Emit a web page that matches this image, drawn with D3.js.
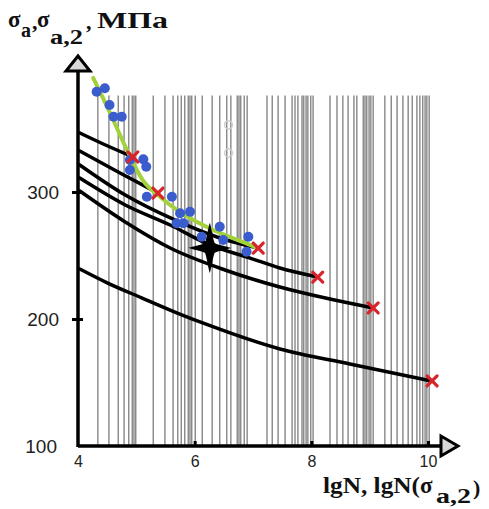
<!DOCTYPE html>
<html>
<head>
<meta charset="utf-8">
<script src="https://cdn.jsdelivr.net/npm/d3@7"></script>
<style>
  body { margin: 0; background: #fff; }
  svg { display: block; }
</style>
</head>
<body>
<div id="chart"></div>
<script>
// --- data (x = lgN, y = sigma, MPa) ---

// vertical grey lines of the background grid
const gridLgN = [4.34, 4.53, 4.69, 4.79, 4.87, 4.93, 4.96, 4.99,
  5.29, 5.49, 5.63, 5.71, 5.77, 5.83, 5.89, 5.92, 5.95, 6.01,
  6.13, 6.30, 6.43, 6.55, 6.62, 6.73, 6.76, 6.79, 6.85, 6.90,
  7.24, 7.33, 7.43, 7.55, 7.67, 7.72, 7.77, 7.84, 7.87, 7.91, 7.94, 7.99, 8.03,
  8.32, 8.44, 8.54, 8.63, 8.73, 8.78, 8.89, 8.92, 8.95, 8.99, 9.02, 9.06,
  9.26, 9.37, 9.47, 9.57, 9.66, 9.73, 9.81, 9.86, 9.91, 9.95, 9.98, 10.02];
const gridTop = 376;

// black fatigue curves, each ends on a red cross
const curve1 = [[4.03, 346.5], [4.51, 336.2], [4.94, 327.6]];
const curve2 = [[4.03, 332.3], [4.72, 315.0], [5.37, 299.2]];
const curve3 = [[4.03, 321.3], [4.81, 297.6], [5.66, 278.0], [6.43, 263.8], [7.09, 255.9]];
const curve4 = [[4.03, 311.0], [4.81, 289.8], [5.58, 274.0], [6.26, 258.3], [6.95, 248.0], [7.46, 240.2], [8.11, 233.1]];
const curve5 = [[4.03, 300.8], [4.81, 276.4], [5.58, 255.9], [6.52, 238.6], [7.46, 225.2], [8.32, 215.7], [9.06, 208.7]];
const curve6 = [[4.03, 239.4], [4.51, 228.3], [5.10, 216.5], [5.66, 205.5], [6.23, 195.3], [7.46, 176.4], [8.66, 164.6], [10.06, 151.2]];
const blackCurves = [curve1, curve2, curve3, curve4, curve5, curve6];

// green fitted curve through the test points
const greenCurve = [[4.26, 389.8], [4.55, 362.2], [4.84, 333.1], [5.11, 309.4], [5.41, 296.1],
  [5.70, 285.8], [6.21, 272.4], [6.95, 258.3], [7.07, 255.9]];

// blue test points
const testPoints = [[4.32, 379.0], [4.46, 381.7], [4.54, 368.5], [4.61, 359.3], [4.75, 359.3],
  [4.89, 325.2], [5.12, 325.7], [5.17, 319.9], [4.89, 317.3], [5.18, 296.3], [5.61, 296.3],
  [5.75, 283.2], [5.92, 284.5], [5.69, 275.4], [5.81, 275.4], [6.12, 264.8], [6.43, 272.7],
  [6.49, 262.2], [6.92, 264.8], [6.89, 253.0]];

// red crosses at curve ends
const crossLgN = [4.94, 5.37, 7.09, 8.11, 9.06, 10.07];
const crossSigma = [327.6, 299.2, 255.9, 233.0, 208.7, 151.2];

// black star and faint ghost circles
const starPoint = [6.26, 256.0];
const ghostPoints = [[6.58, 352.8], [6.58, 330.7]];

const xTicks = [4, 6, 8, 10];
const yTicks = [100, 200, 300];

// --- drawing ---
const width = 489, height = 509;
const svg = d3.select("#chart")
  .append("svg")
  .attr("width", width)
  .attr("height", height);

const x = d3.scaleLinear().domain([4, 10]).range([78, 428]);
const y = d3.scaleLinear().domain([100, 400]).range([446, 65]);

// grid lines
svg.append("g")
  .selectAll("line")
  .data(gridLgN)
  .enter()
  .append("line")
  .attr("x1", d => x(d)).attr("x2", d => x(d))
  .attr("y1", y(gridTop)).attr("y2", y(100))
  .attr("stroke", "#878787")
  .attr("stroke-width", 1.4);

// ghost circles
svg.append("g")
  .selectAll("circle")
  .data(ghostPoints)
  .enter()
  .append("circle")
  .attr("cx", d => x(d[0])).attr("cy", d => y(d[1]))
  .attr("r", 4)
  .attr("fill", "none")
  .attr("stroke", "#cfcfcf")
  .attr("stroke-width", 1.5);

const line = d3.line()
  .x(d => x(d[0]))
  .y(d => y(d[1]))
  .curve(d3.curveMonotoneX);

// black curves
svg.append("g")
  .selectAll("path")
  .data(blackCurves)
  .enter()
  .append("path")
  .attr("d", line)
  .attr("fill", "none")
  .attr("stroke", "#000")
  .attr("stroke-width", 3.5)
  .attr("stroke-linecap", "round");

// green curve
svg.append("path")
  .datum(greenCurve)
  .attr("d", line)
  .attr("fill", "none")
  .attr("stroke", "#a3d13c")
  .attr("stroke-width", 4)
  .attr("stroke-linecap", "round");

// blue points
svg.append("g")
  .selectAll("circle")
  .data(testPoints)
  .enter()
  .append("circle")
  .attr("cx", d => x(d[0])).attr("cy", d => y(d[1]))
  .attr("r", 5)
  .attr("fill", "#3a5ccc");

// red crosses
const crosses = svg.append("g")
  .selectAll("g")
  .data(crossLgN)
  .enter()
  .append("g")
  .attr("transform", (d, i) => `translate(${x(d)},${y(crossSigma[i])})`);
crosses.append("path")
  .attr("d", "M-5,-5L5,5M-5,5L5,-5")
  .attr("stroke", "#d8242a")
  .attr("stroke-width", 3.2)
  .attr("stroke-linecap", "round");

// star
const starPts = [];
for (let k = 0; k < 8; k++) {
  const a = k * Math.PI / 4 - Math.PI / 2;
  const outer = k % 2 === 0;
  const rx = outer ? 21 : 7, ry = outer ? 25 : 7;
  starPts.push([Math.cos(a) * rx, Math.sin(a) * ry]);
}
svg.append("path")
  .attr("transform", `translate(${x(starPoint[0])},${y(starPoint[1])})`)
  .attr("d", d3.line().curve(d3.curveCardinalClosed.tension(0.6))(starPts))
  .attr("fill", "#000");

// axes
const axisColor = "#000";

svg.append("line")
  .attr("x1", x(4)).attr("x2", 442)
  .attr("y1", y(100)).attr("y2", y(100))
  .attr("stroke", axisColor).attr("stroke-width", 3.5);
svg.append("line")
  .attr("x1", x(4)).attr("x2", x(4))
  .attr("y1", y(100) + 1).attr("y2", 70)
  .attr("stroke", axisColor).attr("stroke-width", 3.5);

// arrow heads
svg.append("path")
  .attr("d", `M${x(4)},56L${x(4) + 12},71L${x(4) - 12},71Z`)
  .attr("fill", "#d9d9d9").attr("stroke", axisColor)
  .attr("stroke-width", 3).attr("stroke-linejoin", "miter");
svg.append("path")
  .attr("d", `M458,${y(100)}L441,${y(100) - 10}L441,${y(100) + 10}Z`)
  .attr("fill", "#d9d9d9").attr("stroke", axisColor)
  .attr("stroke-width", 3).attr("stroke-linejoin", "miter");

const xAxis = svg.append("g")
  .attr("transform", `translate(0,${y(100)})`)
  .call(d3.axisBottom(x).tickValues(xTicks).tickFormat(d3.format("d")).tickSize(-5).tickPadding(10));
xAxis.select(".domain").remove();
xAxis.selectAll(".tick line")
  .attr("stroke", "#000").attr("stroke-width", 3)
  .filter(d => d === 4).remove();
xAxis.selectAll(".tick text")
  .attr("font-family", "Liberation Sans, Arial, sans-serif")
  .attr("font-size", 16)
  .attr("fill", "#222");

const yAxis = svg.append("g")
  .attr("transform", `translate(${x(4)},0)`)
  .call(d3.axisLeft(y).tickValues(yTicks).tickFormat(d3.format("d")).tickSize(6).tickPadding(13));
yAxis.select(".domain").remove();
yAxis.selectAll(".tick line")
  .attr("x1", 5)
  .attr("stroke", "#000").attr("stroke-width", 3)
  .filter(d => d === 100).remove();
yAxis.selectAll(".tick text")
  .attr("font-family", "Liberation Sans, Arial, sans-serif")
  .attr("font-size", 19)
  .attr("fill", "#222")
  .attr("x", d => d === 100 ? -21 : -19);

// axis titles
const serif = "Liberation Serif, Times New Roman, serif";
const yTitle = svg.append("g")
  .attr("font-family", serif)
  .attr("font-weight", "bold")
  .attr("fill", "#111");
yTitle.append("text").attr("x", 8).attr("y", 27).attr("font-size", 23).text("σ");
yTitle.append("text").attr("x", 21).attr("y", 37).attr("font-size", 20).text("a");
yTitle.append("text").attr("x", 32).attr("y", 29).attr("font-size", 22).text(",");
yTitle.append("text").attr("x", 37).attr("y", 27).attr("font-size", 23).text("σ");
yTitle.append("text").attr("x", 50).attr("y", 44).attr("font-size", 20)
  .attr("textLength", 33).attr("lengthAdjust", "spacingAndGlyphs").text("a,2");
yTitle.append("text").attr("x", 86).attr("y", 29).attr("font-size", 22).text(",");
yTitle.append("text").attr("x", 97).attr("y", 28).attr("font-size", 23)
  .attr("textLength", 71).attr("lengthAdjust", "spacingAndGlyphs").text("МПа");

const xTitle = svg.append("g")
  .attr("font-family", serif)
  .attr("font-weight", "bold")
  .attr("fill", "#111");
xTitle.append("text").attr("x", 323).attr("y", 493).attr("font-size", 23)
  .attr("textLength", 97).attr("lengthAdjust", "spacingAndGlyphs").text("lgN, lgN(");
xTitle.append("text").attr("x", 420).attr("y", 493).attr("font-size", 23).text("σ");
xTitle.append("text").attr("x", 436).attr("y", 503).attr("font-size", 20)
  .attr("textLength", 35).attr("lengthAdjust", "spacingAndGlyphs").text("a,2");
xTitle.append("text").attr("x", 473).attr("y", 495).attr("font-size", 22).text(")");
</script>
</body>
</html>
